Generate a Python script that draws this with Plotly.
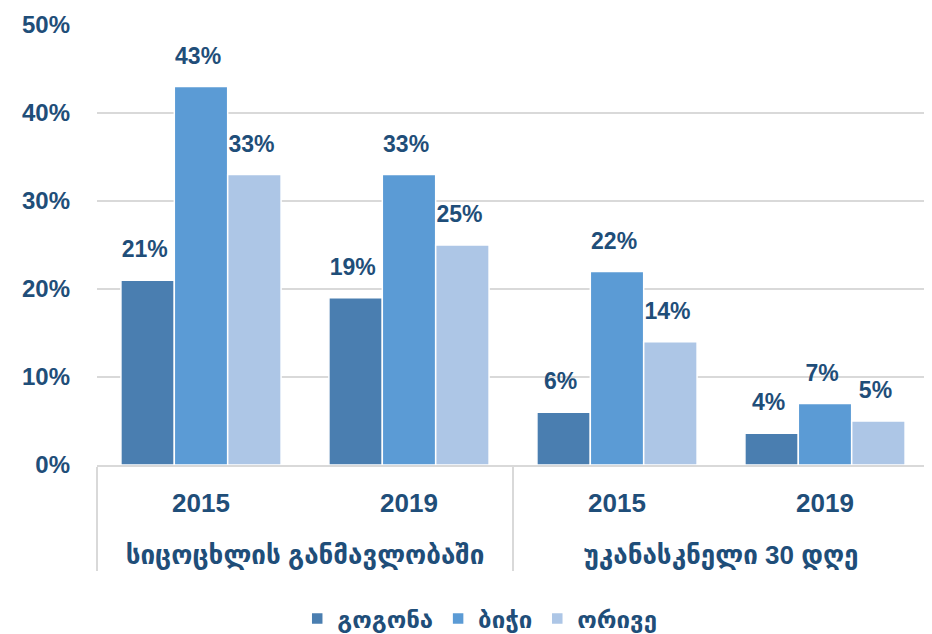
import plotly.graph_objects as go

# categories
periods = ["სიცოცხლის განმავლობაში", "სიცოცხლის განმავლობაში",
           "უკანასკნელი 30 დღე", "უკანასკნელი 30 დღე"]
years = ["2015", "2019", "2015", "2019"]

# series (shares)
girls = [0.21, 0.19, 0.06, 0.036]
boys = [0.43, 0.33, 0.22, 0.07]
both = [0.33, 0.25, 0.14, 0.05]

series_names = ["გოგონა", "ბიჭი", "ორივე"]
colors = ["#4a7eb0", "#5b9bd5", "#adc6e6"]

TEXT = "#1f4e79"
FONT = "Liberation Sans, DejaVu Sans, sans-serif"

# extra blank line under the years pushes the outer labels further down
year_ticks = [y + "<br>\u00a0" for y in years]

# a tall, tiny subscript makes the label box deeper, lifting the value off the bar
LABEL = "%{y:.0%}<sub><span style='font-size:70px'>\u200a</span></sub>"

fig = go.Figure()
for name, vals, col in zip(series_names, [girls, boys, both], colors):
    fig.add_trace(go.Bar(
        x=[periods, year_ticks],
        y=vals,
        name=name,
        marker=dict(color=col, line=dict(color="white", width=1.5)),
        texttemplate=LABEL,
        textposition="outside",
        constraintext="none",
        cliponaxis=False,
        textfont=dict(size=23, color=TEXT, family=FONT, weight="bold"),
    ))

# page body has an 8px margin, so the figure is offset by 8px
fig.update_layout(
    barmode="group",
    bargap=0.23,
    bargroupgap=0.0,
    width=924,
    height=626,
    margin=dict(l=89, r=3, t=17, b=169, autoexpand=False),
    plot_bgcolor="white",
    paper_bgcolor="white",
    font=dict(family=FONT, color=TEXT, size=22, weight="bold"),
    showlegend=True,
    legend=dict(
        orientation="h",
        x=0.46, xanchor="center",
        y=-0.35, yanchor="middle",
        font=dict(size=24, color=TEXT, weight="bold"),
        itemwidth=30,
    ),
)

fig.update_yaxes(
    range=[0, 0.5],
    dtick=0.1,
    tickformat=".0%",
    showgrid=True,
    gridcolor="#d9d9d9",
    gridwidth=1.5,
    zeroline=False,
    showline=False,
    ticks="",
    ticklabelstandoff=26,
    automargin=False,
    tickfont=dict(size=24, color=TEXT, family=FONT, weight="bold"),
)

fig.update_xaxes(
    showline=True,
    linecolor="#d9d9d9",
    linewidth=1.5,
    showdividers=True,
    dividercolor="#d9d9d9",
    dividerwidth=1.5,
    ticks="",
    ticklabelstandoff=14,
    automargin=False,
    tickfont=dict(size=26, color=TEXT, family=FONT, weight="bold"),
)

fig.write_html("out.html")
